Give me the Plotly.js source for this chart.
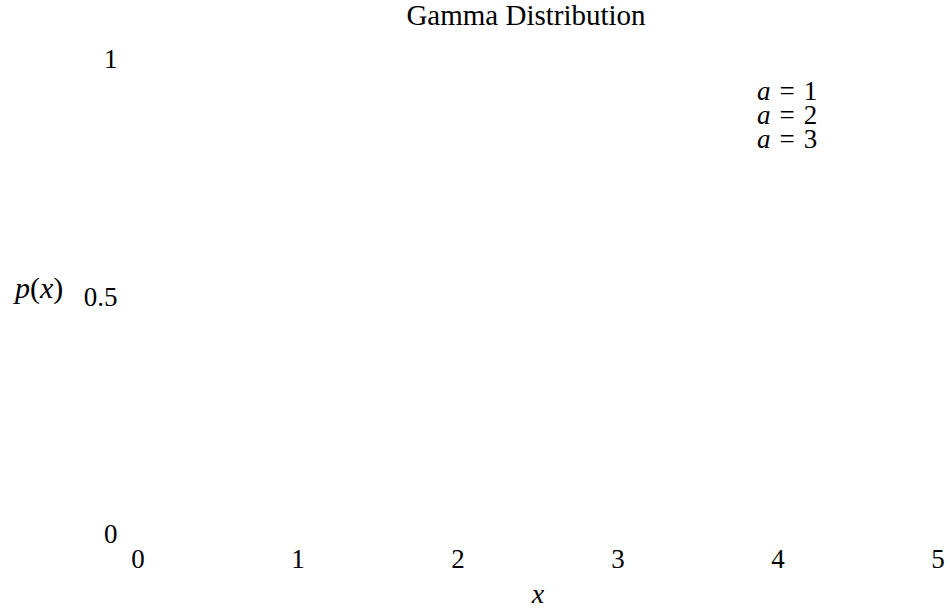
<!DOCTYPE html>
<html>
<head>
<meta charset="utf-8">
<script src="https://cdn.plot.ly/plotly-3.0.1.min.js"></script>
<style>
  html, body { margin: 0; padding: 0; background: #ffffff; }
  #chart { width: 950px; height: 609px; }
</style>
</head>
<body>
<div id="chart"></div>
<script>
// ---- data (no curve points are visible in the reference) ----
const shapeParams = [1, 2, 3];
const seriesNames = ['a = 1', 'a = 2', 'a = 3'];
const seriesX = [[], [], []];
const seriesY = [[], [], []];
const xTickVals = [0, 1, 2, 3, 4, 5];
const yTickVals = [0, 0.5, 1];
const yTickText = ['0', '0.5', '1'];
const chartTitle = 'Gamma Distribution';
const xTitle = 'x';
const yTitle = 'p(x)';

const FONT = '"Liberation Serif", "Times New Roman", serif';

function mathLabel(name) {
  const parts = name.split(' = ');
  return '<span style="font-size:27px"><i>' + parts[0] + '</i>\u2004=\u2004' + parts[1] + '</span>';
}

const traces = shapeParams.map((a, i) => ({
  type: 'scatter',
  mode: 'lines',
  x: seriesX[i],
  y: seriesY[i],
  name: seriesNames[i],
  line: { color: 'rgba(0,0,0,0)', width: 0 },
  showlegend: false,
  hoverinfo: 'skip'
}));

// legend block (text only, as in the reference): one text, tight line spacing
const legendText = seriesNames.map(mathLabel).join('<br>');

const layout = {
  width: 950,
  height: 609,
  paper_bgcolor: '#ffffff',
  plot_bgcolor: '#ffffff',
  margin: { l: 138, r: 12, t: 59, b: 75, pad: 0 },
  font: { family: FONT, color: '#000000', size: 27 },
  title: {
    text: chartTitle,
    font: { family: FONT, size: 29, color: '#000000' },
    xref: 'container', x: 0.5537, xanchor: 'center',
    yref: 'container', y: 0.975, yanchor: 'middle'
  },
  showlegend: false,
  xaxis: {
    range: [0, 5],
    tickvals: xTickVals,
    ticktext: xTickVals.map(String),
    showgrid: false, zeroline: false, showline: false,
    ticks: 'outside', ticklen: 1, tickcolor: 'rgba(0,0,0,0)',
    tickfont: { family: FONT, size: 27, color: '#000000' },
    fixedrange: true,
    title: {
      text: '<i>' + xTitle + '</i>',
      font: { family: FONT, size: 28, color: '#000000' }
    },
    automargin: false
  },
  yaxis: {
    range: [0, 1],
    tickvals: yTickVals,
    ticktext: yTickText,
    showgrid: false, zeroline: false, showline: false,
    ticks: 'outside', ticklen: 14, tickcolor: 'rgba(0,0,0,0)',
    tickfont: { family: FONT, size: 27, color: '#000000' },
    fixedrange: true,
    automargin: false
  },
  annotations: [{
    // y-axis title (horizontal, left of the tick labels)
    text: '<i>p</i>(<i>x</i>)',
    xref: 'paper', yref: 'paper',
    x: -0.1256, y: 0.518,
    xanchor: 'center', yanchor: 'middle',
    showarrow: false,
    font: { family: FONT, size: 30, color: '#000000' }
  }, {
    text: legendText,
    xref: 'paper', yref: 'paper',
    x: 0.771, y: 0.882,
    xanchor: 'left', yanchor: 'middle',
    align: 'left',
    showarrow: false,
    font: { family: FONT, size: 18.5, color: '#000000' }
  }]
};

Plotly.newPlot('chart', traces, layout, { displayModeBar: false, staticPlot: true });
</script>
</body>
</html>
